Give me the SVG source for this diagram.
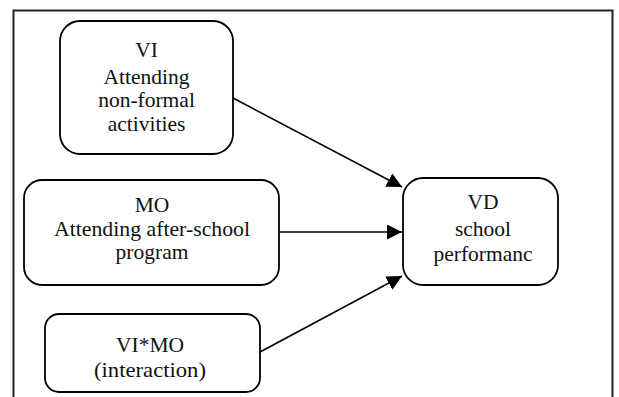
<svg xmlns="http://www.w3.org/2000/svg" width="619" height="397" viewBox="0 0 619 397">
<style>
.box{fill:#fff;stroke:#000;stroke-width:1.8}
.t{font-family:"Liberation Serif","Times New Roman",serif;font-size:21.5px;fill:#111;text-anchor:middle}
.c{stroke:#000;stroke-width:1.6;fill:none}
</style>
<defs>
<marker id="ah" viewBox="0 0 10 10" refX="10" refY="5" markerWidth="15" markerHeight="15" markerUnits="userSpaceOnUse" orient="auto">
<path d="M0,0 L10,5 L0,10 z" fill="#000"/>
</marker>
</defs>
<rect width="619" height="397" fill="#fff"/>
<path d="M13.5,397 V10.5 H612.5 V397" fill="none" stroke="#222" stroke-width="2"/>
<g id="vi">
<rect class="box" x="60" y="21" width="173" height="133" rx="20"/>
<text class="t" x="146.5" y="57">VI</text>
<text class="t" x="146.5" y="84">Attending</text>
<text class="t" x="146.5" y="107">non-formal</text>
<text class="t" x="146.5" y="131">activities</text>
</g>
<g id="mo">
<rect class="box" x="24" y="180" width="255" height="105" rx="18"/>
<text class="t" x="152" y="212">MO</text>
<text class="t" x="152" y="236" textLength="196" lengthAdjust="spacingAndGlyphs">Attending after-school</text>
<text class="t" x="152" y="259">program</text>
</g>
<g id="vimo">
<rect class="box" x="45" y="314" width="215" height="78" rx="14"/>
<text class="t" x="150" y="352">VI*MO</text>
<text class="t" x="150" y="377" textLength="112" lengthAdjust="spacingAndGlyphs">(interaction)</text>
</g>
<g id="vd">
<rect class="box" x="403" y="178" width="155" height="107" rx="20"/>
<text class="t" x="483" y="209">VD</text>
<text class="t" x="483" y="236">school</text>
<text class="t" x="483" y="261">performanc</text>
</g>
<g id="connectors">
<line class="c" x1="233" y1="98" x2="402" y2="187" marker-end="url(#ah)"/>
<line class="c" x1="279" y1="232" x2="402" y2="232" marker-end="url(#ah)"/>
<line class="c" x1="260" y1="352" x2="402" y2="276" marker-end="url(#ah)"/>
</g>
</svg>
